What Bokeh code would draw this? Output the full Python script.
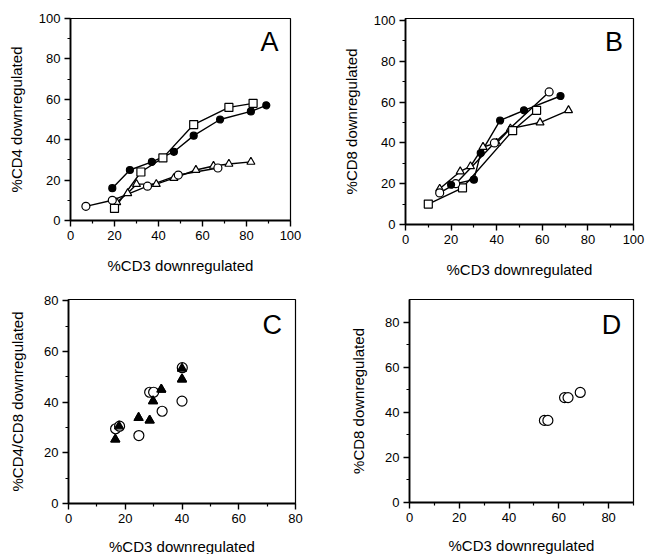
from bokeh.plotting import figure
from bokeh.layouts import column, row
from bokeh.models import FixedTicker, Label, Range1d
from bokeh.embed import file_html
from bokeh.resources import INLINE

# ---------------- data ----------------
x_label = "%CD3 downregulated"

# Panel A: %CD4 vs %CD3
a_fill_x = [19, 27, 37, 47, 56, 68, 82, 89]
a_fill_y = [16, 25, 29, 34, 42, 50, 54, 57]
a_sq_x = [20, 32, 42, 56, 72, 83]
a_sq_y = [6, 24, 31, 47.5, 56, 58]
a_circ_x = [7, 19, 35, 49, 67]
a_circ_y = [7, 10, 17, 22.5, 26]
a_tri_x = [21, 26, 30, 39, 47, 57, 65, 72, 82]
a_tri_y = [9, 13.5, 18, 18, 21, 25, 27, 28, 29]

# Panel B: %CD8 vs %CD3
b_fill_x = [20, 30, 33, 41.5, 52, 68]
b_fill_y = [19.5, 22, 35, 51, 56, 63]
b_circ_x = [15, 22, 39, 63]
b_circ_y = [15.5, 20, 40, 65]
b_sq_x = [10, 25, 47, 57.5]
b_sq_y = [10, 18, 46, 56]
b_tri_x = [15, 24, 28.5, 34, 40, 46, 59, 71.5]
b_tri_y = [17.5, 26, 28.5, 38, 40, 47, 50, 56]

# Panel C: %CD4/CD8 vs %CD3
c_circ_x = [16.6, 18, 24.8, 28.6, 30, 33, 40, 40.1]
c_circ_y = [29.5, 30.5, 26.8, 43.9, 43.9, 36.4, 40.4, 53.6]
c_tri_x = [16.5, 17.8, 24.7, 28.6, 29.8, 32.7, 40, 40]
c_tri_y = [25.3, 30.5, 33.8, 32.8, 40.4, 45, 49, 53.3]

# Panel D: %CD8 vs %CD3
d_circ_x = [54.2, 55.6, 62.3, 63.7, 68.6]
d_circ_y = [36.4, 36.4, 46.5, 46.5, 48.8]

ticks_100 = [0, 20, 40, 60, 80, 100]
minor_100 = [10, 30, 50, 70, 90]
ticks_80 = [0, 20, 40, 60, 80]
minor_80 = [10, 30, 50, 70]

FONT = "Liberation Sans"


def make_panel(xr, yr, xt, xm, yt, ym, fw, fh, bl, br, bt, bb, ylabel,
               letter, lx, ly, xstand, ystand):
    p = figure(x_range=Range1d(*xr), y_range=Range1d(*yr),
               frame_width=fw, frame_height=fh,
               min_border_left=bl, min_border_right=br,
               min_border_top=bt, min_border_bottom=bb,
               output_backend="svg", toolbar_location=None,
               background_fill_color="white", border_fill_color="white")
    p.xgrid.visible = False
    p.ygrid.visible = False
    p.outline_line_color = "black"
    p.outline_line_width = 1.2
    p.xaxis.ticker = FixedTicker(ticks=xt, minor_ticks=xm)
    p.yaxis.ticker = FixedTicker(ticks=yt, minor_ticks=ym)
    for ax in (p.xaxis[0], p.yaxis[0]):
        ax.axis_line_width = 1.8
        ax.axis_line_color = "black"
        ax.major_tick_out = 6
        ax.major_tick_in = 0
        ax.minor_tick_out = 3
        ax.minor_tick_in = 0
        ax.major_tick_line_width = 1.4
        ax.minor_tick_line_width = 1.2
        ax.major_tick_line_color = "black"
        ax.minor_tick_line_color = "black"
        ax.major_label_text_font = FONT
        ax.major_label_text_font_size = "13px"
        ax.major_label_text_color = "black"
        ax.major_label_standoff = 4
        ax.axis_label_text_font = FONT
        ax.axis_label_text_font_size = "15px"
        ax.axis_label_text_font_style = "normal"
        ax.axis_label_text_color = "black"
    p.xaxis.axis_label = x_label
    p.yaxis.axis_label = ylabel
    p.xaxis.axis_label_standoff = xstand
    p.yaxis.axis_label_standoff = ystand
    p.add_layout(Label(x=lx, y=ly, text=letter, text_font=FONT,
                       text_font_size="27px", text_align="center",
                       text_baseline="middle", text_color="black"))
    return p


def marks(p, xs, ys, marker, fill, size):
    p.scatter(xs, ys, marker=marker, size=size, fill_color=fill,
              line_color="black", line_width=1.2)


# Panel A
pA = make_panel((0, 100), (0, 100), ticks_100, minor_100, ticks_100, minor_100,
                220, 202, 70, 40, 18, 60, "%CD4 downregulated", "A", 90.5, 88.4,
                14, 11)
for xs, ys in [(a_tri_x, a_tri_y), (a_circ_x, a_circ_y), (a_sq_x, a_sq_y), (a_fill_x, a_fill_y)]:
    pA.line(xs, ys, line_color="black", line_width=1.4)
marks(pA, a_tri_x, a_tri_y, "triangle", "white", 8)
marks(pA, a_circ_x, a_circ_y, "circle", "white", 8)
marks(pA, a_sq_x, a_sq_y, "square", "white", 8)
marks(pA, a_fill_x, a_fill_y, "circle", "black", 7)

# Panel B
pB = make_panel((0, 100), (0, 101), ticks_100, minor_100, ticks_100, minor_100,
                228, 206, 75, 14, 15, 59, "%CD8 downregulated", "B", 91.4, 89.3,
                14, 11)
for xs, ys in [(b_tri_x, b_tri_y), (b_circ_x, b_circ_y), (b_sq_x, b_sq_y), (b_fill_x, b_fill_y)]:
    pB.line(xs, ys, line_color="black", line_width=1.4)
marks(pB, b_tri_x, b_tri_y, "triangle", "white", 8)
marks(pB, b_sq_x, b_sq_y, "square", "white", 8)
marks(pB, b_circ_x, b_circ_y, "circle", "white", 8)
marks(pB, b_fill_x, b_fill_y, "circle", "black", 7)

# Panel C
pC = make_panel((0, 80), (0, 80.5), ticks_80, minor_80, ticks_80, minor_80,
                227, 204, 68, 35, 18, 52, "%CD4/CD8 downregulated", "C", 71.8, 70.6,
                12, 15)
marks(pC, c_tri_x, c_tri_y, "triangle", "black", 9)
marks(pC, c_circ_x, c_circ_y, "circle", "white", 10)
marks(pC, c_tri_x, c_tri_y, "triangle", "black", 9)

# Panel D
pD = make_panel((0, 90), (0, 90), ticks_80, minor_80 + [90], ticks_80, minor_80,
                224, 203, 79, 14, 19, 52, "%CD8 downregulated", "D", 81.2, 78.9,
                12, 15)
marks(pD, d_circ_x, d_circ_y, "circle", "white", 10)

layout = column(row(pA, pB), row(pC, pD))
open("out.html", "w").write(file_html(layout, INLINE))
